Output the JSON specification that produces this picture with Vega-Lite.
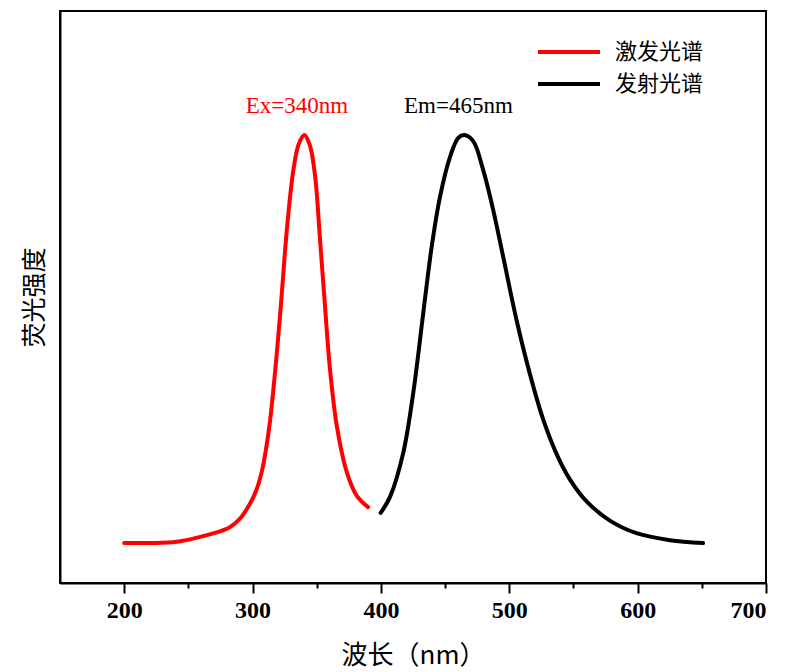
{
  "$schema": "https://vega.github.io/schema/vega-lite/v6.json",
  "width": 706,
  "height": 572,
  "autosize": "none",
  "padding": {"left": 60, "top": 11, "right": 19, "bottom": 89},
  "background": "white",
  "config": {
    "view": {"stroke": "black", "strokeWidth": 2},
    "axis": {"domainColor": "black", "domainWidth": 2, "tickColor": "black", "tickWidth": 2, "grid": false, "titleColor": "black", "labelColor": "black"}
  },
  "datasets": {
    "spectra": [
      {"series": "激发光谱", "wavelength": 200, "intensity": 0.0},
      {"series": "激发光谱", "wavelength": 220, "intensity": 0.0},
      {"series": "激发光谱", "wavelength": 241, "intensity": 0.003},
      {"series": "激发光谱", "wavelength": 259, "intensity": 0.015},
      {"series": "激发光谱", "wavelength": 272, "intensity": 0.026},
      {"series": "激发光谱", "wavelength": 282, "intensity": 0.038},
      {"series": "激发光谱", "wavelength": 290.3, "intensity": 0.06},
      {"series": "激发光谱", "wavelength": 298.1, "intensity": 0.097},
      {"series": "激发光谱", "wavelength": 303, "intensity": 0.13},
      {"series": "激发光谱", "wavelength": 307.2, "intensity": 0.175},
      {"series": "激发光谱", "wavelength": 310.5, "intensity": 0.23},
      {"series": "激发光谱", "wavelength": 313.7, "intensity": 0.301},
      {"series": "激发光谱", "wavelength": 318.9, "intensity": 0.465},
      {"series": "激发光谱", "wavelength": 322.8, "intensity": 0.612},
      {"series": "激发光谱", "wavelength": 326.7, "intensity": 0.767},
      {"series": "激发光谱", "wavelength": 331.8, "intensity": 0.914},
      {"series": "激发光谱", "wavelength": 336, "intensity": 0.978},
      {"series": "激发光谱", "wavelength": 340.4, "intensity": 1.0},
      {"series": "激发光谱", "wavelength": 344.6, "intensity": 0.975},
      {"series": "激发光谱", "wavelength": 348.7, "intensity": 0.9},
      {"series": "激发光谱", "wavelength": 352.6, "intensity": 0.743},
      {"series": "激发光谱", "wavelength": 356.5, "intensity": 0.578},
      {"series": "激发光谱", "wavelength": 360.4, "intensity": 0.424},
      {"series": "激发光谱", "wavelength": 365.8, "intensity": 0.284},
      {"series": "激发光谱", "wavelength": 373.6, "intensity": 0.172},
      {"series": "激发光谱", "wavelength": 381.4, "intensity": 0.115},
      {"series": "激发光谱", "wavelength": 390, "intensity": 0.088},
      {"series": "发射光谱", "wavelength": 399.8, "intensity": 0.074},
      {"series": "发射光谱", "wavelength": 407.1, "intensity": 0.113},
      {"series": "发射光谱", "wavelength": 417.4, "intensity": 0.221},
      {"series": "发射光谱", "wavelength": 425.2, "intensity": 0.368},
      {"series": "发射光谱", "wavelength": 433, "intensity": 0.564},
      {"series": "发射光谱", "wavelength": 439.5, "intensity": 0.725},
      {"series": "发射光谱", "wavelength": 446, "intensity": 0.848},
      {"series": "发射光谱", "wavelength": 453.8, "intensity": 0.946},
      {"series": "发射光谱", "wavelength": 460.3, "intensity": 0.993},
      {"series": "发射光谱", "wavelength": 465, "intensity": 1.0},
      {"series": "发射光谱", "wavelength": 471.9, "intensity": 0.985},
      {"series": "发射光谱", "wavelength": 479.7, "intensity": 0.914},
      {"series": "发射光谱", "wavelength": 487.5, "intensity": 0.816},
      {"series": "发射光谱", "wavelength": 495.3, "intensity": 0.701},
      {"series": "发射光谱", "wavelength": 505.7, "intensity": 0.546},
      {"series": "发射光谱", "wavelength": 516.1, "intensity": 0.414},
      {"series": "发射光谱", "wavelength": 526.4, "intensity": 0.303},
      {"series": "发射光谱", "wavelength": 536.9, "intensity": 0.218},
      {"series": "发射光谱", "wavelength": 547.2, "intensity": 0.156},
      {"series": "发射光谱", "wavelength": 560.2, "intensity": 0.102},
      {"series": "发射光谱", "wavelength": 578.4, "intensity": 0.055},
      {"series": "发射光谱", "wavelength": 599.1, "intensity": 0.024},
      {"series": "发射光谱", "wavelength": 625.1, "intensity": 0.007},
      {"series": "发射光谱", "wavelength": 651, "intensity": 0.0}
    ],
    "annotations": [
      {"label": "Ex=340nm", "series": "激发光谱", "wavelength": 334.5, "intensity": 1.071},
      {"label": "Em=465nm", "series": "发射光谱", "wavelength": 460.4, "intensity": 1.071}
    ]
  },
  "layer": [
    {
      "data": {"name": "spectra"},
      "mark": {"type": "line", "strokeWidth": 4, "interpolate": "catmull-rom", "strokeCap": "round"},
      "encoding": {
        "x": {
          "field": "wavelength", "type": "quantitative",
          "scale": {"domain": [150, 700], "nice": false, "zero": false},
          "axis": {
            "title": "波长（nm）",
            "titleFont": "Noto Sans CJK SC", "titleFontSize": 26, "titleFontWeight": "normal", "titlePadding": 20,
            "values": [200, 250, 300, 350, 400, 450, 500, 550, 600, 650, 700],
            "labelExpr": "datum.value % 100 === 0 ? datum.label : ''",
            "labelFont": "Liberation Serif", "labelFontSize": 24, "labelFontWeight": "bold", "labelPadding": 5,
            "tickSize": {"condition": {"test": "datum.value % 100 === 0", "value": 10}, "value": 5}
          }
        },
        "y": {
          "field": "intensity", "type": "quantitative",
          "scale": {"domain": [-0.098, 1.304], "nice": false, "zero": false},
          "axis": {
            "title": "荧光强度", "ticks": false, "labels": false,
            "titleFont": "Noto Sans CJK SC", "titleFontSize": 25, "titleFontWeight": "normal", "titlePadding": 13
          }
        },
        "color": {
          "field": "series", "type": "nominal",
          "scale": {"domain": ["激发光谱", "发射光谱"], "range": ["#ff0000", "#000000"]},
          "legend": {
            "title": null, "orient": "none", "legendX": 476, "legendY": 26,
            "symbolType": "stroke", "symbolSize": 3844, "symbolStrokeWidth": 4,
            "labelFont": "Noto Sans CJK SC", "labelFontSize": 22, "labelColor": "black",
            "labelOffset": 13, "clipHeight": 30, "rowPadding": 2, "padding": 0
          }
        }
      }
    },
    {
      "data": {"name": "annotations"},
      "transform": [{"filter": "datum.series === '激发光谱'"}],
      "mark": {"type": "text", "font": "Liberation Serif", "fontSize": 23, "color": "#ff0000", "baseline": "middle"},
      "encoding": {
        "x": {"field": "wavelength", "type": "quantitative"},
        "y": {"field": "intensity", "type": "quantitative"},
        "text": {"field": "label"}
      }
    },
    {
      "data": {"name": "annotations"},
      "transform": [{"filter": "datum.series === '发射光谱'"}],
      "mark": {"type": "text", "font": "Liberation Serif", "fontSize": 23, "color": "#000000", "baseline": "middle"},
      "encoding": {
        "x": {"field": "wavelength", "type": "quantitative"},
        "y": {"field": "intensity", "type": "quantitative"},
        "text": {"field": "label"}
      }
    }
  ]
}
